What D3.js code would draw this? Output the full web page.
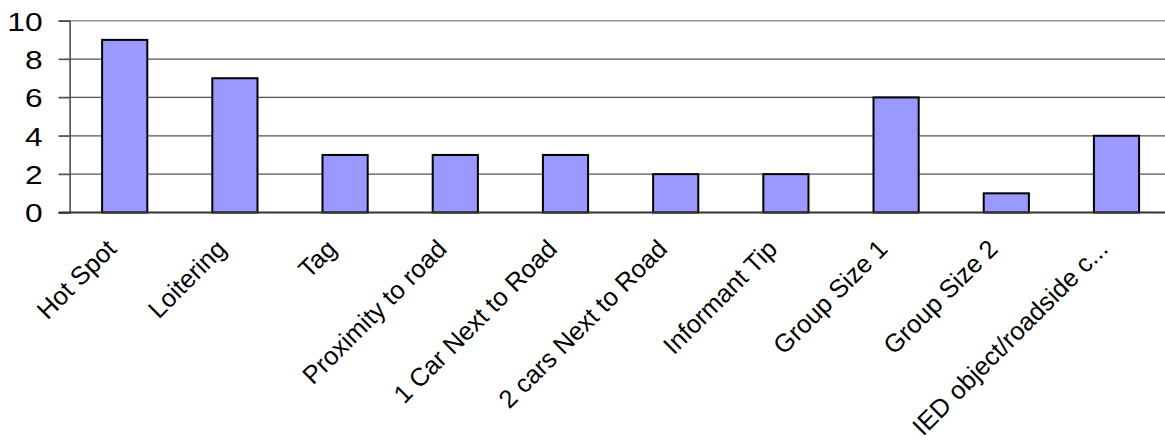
<!DOCTYPE html>
<html>
<head>
<meta charset="utf-8">
<script src="https://cdn.jsdelivr.net/npm/d3@7"></script>
<style>
    body { margin: 0; background: #fff; }
    svg { display: block; font-family: Arial, "Liberation Sans", sans-serif; }
</style>
</head>
<body>
<svg id="chart" width="1165" height="441"></svg>
<script>
const categories = ["Hot Spot", "Loitering", "Tag", "Proximity to road", "1 Car Next to Road",
    "2 cars Next to Road", "Informant Tip", "Group Size 1", "Group Size 2", "IED object/roadside c..."];
const counts = [9, 7, 3, 3, 3, 2, 2, 6, 1, 4];
const yTicks = [0, 2, 4, 6, 8, 10];

const svg = d3.select("#chart");

const plotLeft = 69.6, plotRight = 1171.6;
const plotTop = 20.7, plotBottom = 212.5;

const x = d3.scaleBand().domain(categories).range([plotLeft, plotRight]).paddingInner(0.59).paddingOuter(0.295);
const y = d3.scaleLinear().domain([0, 10]).range([plotBottom, plotTop]);

// gridlines
svg.append("g").selectAll("line").data(yTicks.filter(d => d > 0)).join("line")
    .attr("x1", plotLeft - 11).attr("x2", 1165)
    .attr("y1", d => y(d)).attr("y2", d => y(d))
    .attr("stroke", d => d === 10 ? "#999" : "#555")
    .attr("stroke-width", d => d === 10 ? 1.6 : 1.2);

// y axis
const yAxis = svg.append("g")
    .attr("transform", `translate(${plotLeft},0)`)
    .call(d3.axisLeft(y).tickValues(yTicks).tickSize(11).tickPadding(0));
yAxis.select(".domain").attr("stroke", "#444").attr("stroke-width", 1.5);
yAxis.selectAll(".tick line").attr("stroke", "#555").attr("stroke-width", 1.2);
yAxis.selectAll(".tick text")
    .attr("font-size", 26)
    .attr("fill", "#000")
    .attr("x", null)
    .attr("dy", "0.36em")
    .attr("transform", "translate(-27,0) scale(1.22,1)")
    .attr("text-anchor", "end");

// bars
svg.append("g").selectAll("rect").data(counts).join("rect")
    .attr("x", (d, i) => x(categories[i]))
    .attr("y", d => y(d))
    .attr("width", x.bandwidth())
    .attr("height", d => y(0) - y(d))
    .attr("fill", "#9999ff")
    .attr("stroke", "#000")
    .attr("stroke-width", 2);

// x axis line
svg.append("line")
    .attr("x1", plotLeft - 11).attr("x2", 1165)
    .attr("y1", plotBottom).attr("y2", plotBottom)
    .attr("stroke", "#333").attr("stroke-width", 2);

// x labels, rotated
svg.append("g").selectAll("text").data(categories).join("text")
    .attr("transform", d => `translate(${x(d) + x.bandwidth() / 2 - 7},${plotBottom + 38}) rotate(-45)`)
    .attr("text-anchor", "end")
    .attr("font-size", 25.5)
    .attr("fill", "#000")
    .text(d => d);
</script>
</body>
</html>
